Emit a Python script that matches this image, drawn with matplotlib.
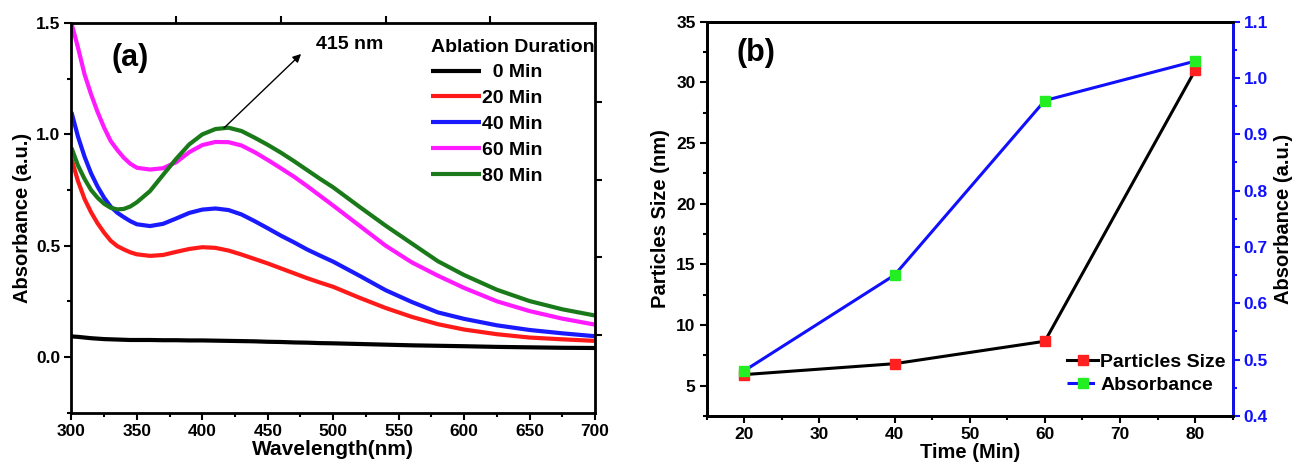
import numpy as np
import matplotlib
matplotlib.use("Agg")
import matplotlib.pyplot as plt
from matplotlib.lines import Line2D
from matplotlib.ticker import MultipleLocator, NullFormatter

plt.rcParams['font.family'] = ['Liberation Sans', 'DejaVu Sans']
plt.rcParams['font.weight'] = 'bold'
plt.rcParams['axes.labelweight'] = 'bold'

# ---- panel (a): UV-vis spectra ----
wavelength = [300, 305, 310, 315, 320, 325, 330, 335, 340, 345,
              350, 360, 370, 380, 390, 400, 410, 420, 430, 440, 450, 460, 470, 480,
              490, 500, 520, 540, 560, 580, 600, 625, 650, 675, 700]
abs_0min = [0.092, 0.090, 0.087, 0.084, 0.082, 0.080, 0.079, 0.078, 0.077, 0.076,
            0.076, 0.076, 0.075, 0.075, 0.074, 0.074, 0.073, 0.072, 0.071, 0.070,
            0.068, 0.067, 0.065, 0.064, 0.062, 0.061, 0.058, 0.055, 0.052, 0.050,
            0.048, 0.045, 0.043, 0.041, 0.040]
abs_20min = [0.89, 0.79, 0.71, 0.65, 0.600, 0.558, 0.522, 0.498, 0.483, 0.470,
             0.461, 0.454, 0.458, 0.472, 0.485, 0.493, 0.490, 0.478, 0.460, 0.440,
             0.420, 0.398, 0.376, 0.354, 0.334, 0.315, 0.266, 0.220, 0.180, 0.147,
             0.123, 0.102, 0.087, 0.079, 0.072]
abs_40min = [1.10, 0.99, 0.90, 0.825, 0.765, 0.715, 0.675, 0.648, 0.628, 0.610,
             0.596, 0.588, 0.598, 0.622, 0.647, 0.662, 0.667, 0.660, 0.640, 0.610,
             0.578, 0.545, 0.515, 0.483, 0.455, 0.428, 0.365, 0.300, 0.247, 0.200,
             0.171, 0.142, 0.121, 0.106, 0.093]
abs_60min = [1.50, 1.39, 1.27, 1.18, 1.10, 1.03, 0.97, 0.93, 0.895, 0.868,
             0.850, 0.842, 0.848, 0.875, 0.920, 0.952, 0.966, 0.965, 0.950, 0.920,
             0.885, 0.848, 0.810, 0.768, 0.724, 0.680, 0.590, 0.500, 0.425, 0.365,
             0.310, 0.250, 0.206, 0.172, 0.145]
abs_80min = [0.94, 0.86, 0.80, 0.75, 0.715, 0.688, 0.670, 0.663, 0.665, 0.676,
             0.695, 0.745, 0.818, 0.890, 0.955, 1.000, 1.024, 1.030, 1.015, 0.985,
             0.953, 0.918, 0.880, 0.840, 0.800, 0.762, 0.675, 0.590, 0.510, 0.430,
             0.368, 0.302, 0.251, 0.214, 0.186]
spectra_labels = ["  0 Min", "20 Min", "40 Min", "60 Min", "80 Min"]
spectra_colors = ["black", "#ff1a1a", "#1a1aff", "#ff1aff", "#1a7a1a"]

# ---- panel (b): size and absorbance vs time ----
time_min = [20, 40, 60, 80]
particle_size = [5.9, 6.8, 8.65, 31.0]
absorbance_peak = [0.48, 0.65, 0.96, 1.03]

fig = plt.figure(figsize=(12.99, 4.72), dpi=100)
ax1 = fig.add_axes([0.055, 0.126, 0.403, 0.825])
ax2 = fig.add_axes([0.544, 0.119, 0.405, 0.835])

tick_kw = dict(direction='out', labelsize=12.5, width=1.5, pad=3)


def style_spines(ax):
    for s in ax.spines.values():
        s.set_linewidth(2)


# panel a
for y, lab, col in zip([abs_0min, abs_20min, abs_40min, abs_60min, abs_80min],
                       spectra_labels, spectra_colors):
    ax1.plot(wavelength, y, color=col, lw=3, label=lab,
             solid_joinstyle='round', solid_capstyle='butt')
ax1.set_xlim(300, 700)
ax1.set_ylim(-0.25, 1.5)
ax1.xaxis.set_major_locator(MultipleLocator(50))
ax1.xaxis.set_minor_locator(MultipleLocator(25))
ax1.yaxis.set_minor_locator(MultipleLocator(0.25))
ax1.set_yticks([0.0, 0.5, 1.0, 1.5])
ax1.tick_params(which='major', length=5, **tick_kw)
ax1.tick_params(which='minor', length=3, direction='out', width=1.5)
ax1.set_xlabel("Wavelength(nm)", fontsize=15, labelpad=1)
ax1.set_ylabel("Absorbance (a.u.)", fontsize=14.5, labelpad=3)
style_spines(ax1)

# odd extra ticks on top / right frame
top = ax1.secondary_xaxis('top')
top.set_xticks([380, 460, 540, 620])
top.xaxis.set_major_formatter(NullFormatter())
top.tick_params(length=5, width=1.5, direction='out')
right = ax1.secondary_yaxis('right')
right.set_yticks([0.10, 0.45, 0.795, 1.145])
right.yaxis.set_major_formatter(NullFormatter())
right.tick_params(length=5, width=1.5, direction='out')

ax1.annotate("", xy=(477, 1.37), xytext=(415, 1.02),
             arrowprops=dict(arrowstyle='-|>', color='black', lw=1, mutation_scale=12))
ax1.text(487, 1.405, "415 nm", fontsize=14, fontweight='bold', va='center')
ax1.text(0.077, 0.91, "(a)", transform=ax1.transAxes, fontsize=22,
         fontweight='bold', va='center')
leg1 = ax1.legend(loc='upper left', bbox_to_anchor=(0.668, 0.985), frameon=False,
                  title="Ablation Duration", handlelength=2.6,
                  handletextpad=0.05, labelspacing=0.42, borderpad=0,
                  prop={'weight': 'bold', 'size': 14})
leg1.get_title().set_fontweight('bold')
leg1.get_title().set_fontsize(14)
leg1._legend_box.align = "left"

# panel b
ax2.plot(time_min, particle_size, color='black', lw=2.2, marker='s', ms=7.5,
         mfc='#ff2020', mec='#ff2020', zorder=3)
ax2.set_xlim(15, 85)
ax2.xaxis.set_major_locator(MultipleLocator(10))
ax2.xaxis.set_minor_locator(MultipleLocator(5))
ax2.yaxis.set_minor_locator(MultipleLocator(2.5))
ax2.set_yticks([5, 10, 15, 20, 25, 30, 35])
ax2.set_ylim(2.5, 35)
ax2.tick_params(which='major', length=5, **tick_kw)
ax2.tick_params(which='minor', length=3, direction='out', width=1.5)
ax2.set_xlabel("Time (Min)", fontsize=14.5, labelpad=1)
ax2.set_ylabel("Particles Size (nm)", fontsize=14.5, labelpad=4)
style_spines(ax2)

ax3 = ax2.twinx()
ax3.plot(time_min, absorbance_peak, color='#1010ff', lw=2.2, marker='s', ms=7.5,
         mfc='#22ee22', mec='#22ee22')
ax3.set_ylim(0.4, 1.1)
ax3.yaxis.set_major_locator(MultipleLocator(0.1))
ax3.yaxis.set_minor_locator(MultipleLocator(0.05))
ax3.tick_params(which='major', length=5, colors='#1010ff', **tick_kw)
ax3.tick_params(which='minor', length=3, direction='out', width=1.5, colors='#1010ff')
ax3.set_ylabel("Absorbance (a.u.)", fontsize=14.5, labelpad=4, color='black')
style_spines(ax3)
ax3.spines['right'].set_color('#1010ff')

ax2.text(0.056, 0.92, "(b)", transform=ax2.transAxes, fontsize=22,
         fontweight='bold', va='center')
handles = [Line2D([], [], color='black', lw=2.2, marker='s', ms=7.5, mfc='#ff2020', mec='#ff2020'),
           Line2D([], [], color='#1010ff', lw=2.2, ls='--', marker='s', ms=7.5, mfc='#22ee22',
                  mec='#22ee22')]
ax3.legend(handles, ["Particles Size", "Absorbance"], loc='lower right',
           bbox_to_anchor=(1.005, 0.03), frameon=False, handlelength=1.6,
           handletextpad=0.1, labelspacing=0.3, borderpad=0,
           prop={'weight': 'bold', 'size': 14})

fig.savefig("out.png", dpi=100)
